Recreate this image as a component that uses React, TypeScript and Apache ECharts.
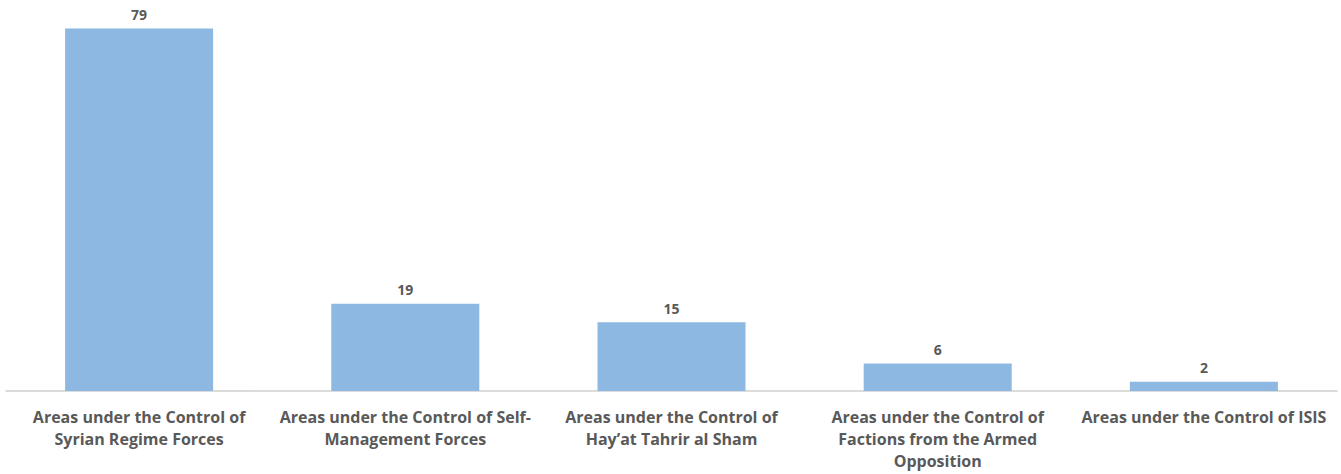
import React, { useEffect, useRef } from "react";
import * as echarts from "echarts";

const categories = [
  "Areas under the Control of\nSyrian Regime Forces",
  "Areas under the Control of Self-\nManagement Forces",
  "Areas under the Control of\nHay’at Tahrir al Sham",
  "Areas under the Control of\nFactions from the Armed\nOpposition",
  "Areas under the Control of ISIS",
];
const values = [79, 19, 15, 6, 2];

export default function App() {
  const ref = useRef<HTMLDivElement>(null);
  useEffect(() => {
    const chart = echarts.init(ref.current!, null, { renderer: "svg" });
    chart.setOption({
      animation: false,
      grid: { left: 6, right: 4, top: 24, bottom: 83, containLabel: false },
      xAxis: {
        type: "category",
        data: categories,
        axisLine: { show: true, lineStyle: { color: "#d0d0d0", width: 1.5 } },
        axisTick: { show: false },
        axisLabel: {
          interval: 0,
          margin: 15,
          color: "#595959",
          fontFamily: "Open Sans",
          fontWeight: "bold",
          fontSize: 16,
          lineHeight: 22,
        },
      },
      yAxis: { type: "value", min: 0, max: 80, show: false, splitLine: { show: false } },
      series: [
        {
          type: "bar",
          data: values,
          barWidth: 148,
          itemStyle: { color: "#8cb8e1" },
          label: {
            show: true,
            position: "top",
            distance: 7,
            color: "#595959",
            fontFamily: "Open Sans",
            fontWeight: "bold",
            fontSize: 14,
          },
        },
      ],
    });
    return () => chart.dispose();
  }, []);
  return (
    <div
      ref={ref}
      style={{ position: "fixed", left: 0, top: 0, width: 1341, height: 474, background: "#fff" }}
    />
  );
}
